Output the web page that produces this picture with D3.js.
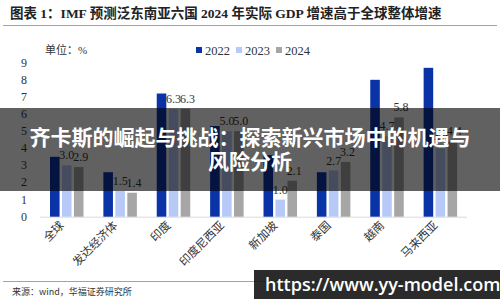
<!DOCTYPE html>
<html>
<head>
<meta charset="utf-8">
<script src="https://cdn.jsdelivr.net/npm/d3@7"></script>
<style>
  body { margin: 0; background: #fff; }
  svg { display: block; }
</style>
</head>
<body>
<div id="chart"></div>
<script>
var categories = ['全球', '发达经济体', '印度', '印度尼西亚', '新加坡', '泰国', '越南', '马来西亚'];
var series_names = ['2022', '2023', '2024'];
var v2022 = [3.5, 2.6, 7.2, 5.3, 3.6, 2.6, 8.0, 8.7];
var v2023 = [3.0, 1.5, 6.3, 5.0, 1.0, 2.7, 4.7, 4.0];
var v2024 = [2.9, 1.4, 6.3, 5.0, 2.1, 3.2, 5.8, 4.4];
var y_ticks = [0, 1, 2, 3, 4, 5, 6, 7, 8, 9];

var colors = ['#0b33a8', '#b6c9f7', '#a6a6a6'];
var serif = '"Liberation Serif", "Noto Sans CJK SC", serif';
var sans = '"Noto Sans CJK SC", "Open Sans", sans-serif';

var chart_width = 500;
var chart_height = 300;

var svg = d3.select('#chart')
    .append('svg')
    .attr('width', chart_width)
    .attr('height', chart_height);

// title + rule
svg.append('text')
    .attr('x', 10)
    .attr('y', 18)
    .attr('font-family', serif)
    .attr('font-weight', 'bold')
    .attr('font-size', 13.5)
    .attr('fill', '#222')
    .text('图表 1：IMF 预测泛东南亚六国 2024 年实际 GDP 增速高于全球整体增速');

svg.append('line')
    .attr('x1', 3).attr('x2', 497)
    .attr('y1', 25.5).attr('y2', 25.5)
    .attr('stroke', '#8fa6c4')
    .attr('stroke-width', 1);

svg.append('text')
    .attr('x', 45)
    .attr('y', 54)
    .attr('font-family', serif)
    .attr('font-size', 11)
    .attr('fill', '#333')
    .text('单位：%');

// legend
var legend = svg.selectAll('.legend')
    .data(series_names)
    .enter()
    .append('g')
    .attr('transform', function (d, i) {
        return 'translate(' + (196 + i * 40) + ',50)';
    });
legend.append('rect')
    .attr('x', 0).attr('y', -3)
    .attr('width', 6).attr('height', 6)
    .attr('fill', function (d, i) { return colors[i]; });
legend.append('text')
    .attr('x', 9).attr('y', 4.5)
    .attr('font-family', serif)
    .attr('font-size', 12.5)
    .attr('fill', '#333')
    .text(function (d) { return d; });

// scales
var x_scale = d3.scaleBand()
    .domain(categories)
    .range([40, 467]);

var x_inner = d3.scaleBand()
    .domain(series_names)
    .range([10, 43.5])
    .paddingInner(0.2);

var y_scale = d3.scaleLinear()
    .domain([0, 9])
    .range([216.7, 62.7]);

// y tick labels
svg.selectAll('.ytick')
    .data(y_ticks)
    .enter()
    .append('text')
    .attr('x', 27)
    .attr('y', function (d) { return y_scale(d) + 4; })
    .attr('text-anchor', 'end')
    .attr('font-family', serif)
    .attr('font-size', 12)
    .attr('fill', '#333')
    .text(function (d) { return d; });

// baseline
svg.append('line')
    .attr('x1', 40).attr('x2', 467)
    .attr('y1', y_scale(0) + 0.5).attr('y2', y_scale(0) + 0.5)
    .attr('stroke', '#d9d9d9')
    .attr('stroke-width', 1);

var all_series = [v2022, v2023, v2024];
var rows = [];
categories.forEach(function (c, ci) {
    series_names.forEach(function (s, si) {
        rows.push({ cat: c, s: s, si: si, v: all_series[si][ci] });
    });
});

svg.selectAll('.bar')
    .data(rows)
    .enter()
    .append('rect')
    .attr('x', function (d) { return x_scale(d.cat) + x_inner(d.s); })
    .attr('y', function (d) { return y_scale(d.v); })
    .attr('width', x_inner.bandwidth())
    .attr('height', function (d) { return y_scale(0) - y_scale(d.v); })
    .attr('fill', function (d) { return colors[d.si]; });

// value labels (2023 & 2024 only)
svg.selectAll('.vlabel')
    .data(rows.filter(function (d) { return d.si > 0; }))
    .enter()
    .append('text')
    .attr('x', function (d) { return x_scale(d.cat) + x_inner(d.s) + x_inner.bandwidth() / 2 + (d.si === 2 ? 2 : 0); })
    .attr('y', function (d) { return y_scale(d.v) - 6; })
    .attr('text-anchor', 'middle')
    .attr('font-family', serif)
    .attr('font-size', 12)
    .attr('fill', '#333')
    .text(function (d) { return d.v.toFixed(1); });

// category labels
svg.selectAll('.xlabel')
    .data(categories)
    .enter()
    .append('text')
    .attr('transform', function (d) {
        return 'translate(' + (x_scale(d) + x_scale.bandwidth() / 2 - 2) + ',226) rotate(-45)';
    })
    .attr('text-anchor', 'end')
    .attr('font-family', serif)
    .attr('font-size', 11.5)
    .attr('fill', '#333')
    .text(function (d) { return d; });

// source
svg.append('line')
    .attr('x1', 3).attr('x2', 497)
    .attr('y1', 281.5).attr('y2', 281.5)
    .attr('stroke', '#8fa6c4')
    .attr('stroke-width', 1);

svg.append('text')
    .attr('x', 12)
    .attr('y', 295)
    .attr('font-family', sans)
    .attr('font-size', 9)
    .attr('fill', '#333')
    .text('来源：wind，华福证券研究所');

// overlay banner
svg.append('rect')
    .attr('x', 0).attr('y', 108)
    .attr('width', 500).attr('height', 83)
    .attr('fill', 'rgba(0,0,0,0.62)');

var banner_lines = ['齐卡斯的崛起与挑战：探索新兴市场中的机遇与', '风险分析'];
svg.selectAll('.banner')
    .data(banner_lines)
    .enter()
    .append('text')
    .attr('x', 250)
    .attr('y', function (d, i) { return 145 + i * 24; })
    .attr('text-anchor', 'middle')
    .attr('font-family', sans)
    .attr('font-weight', 'bold')
    .attr('font-size', 21)
    .attr('fill', '#fff')
    .text(function (d) { return d; });

// watermark
svg.append('rect')
    .attr('x', 254).attr('y', 270)
    .attr('width', 246).attr('height', 29)
    .attr('fill', 'rgba(20,20,20,0.9)');

svg.append('text')
    .attr('x', 265)
    .attr('y', 291)
    .attr('font-family', '"Open Sans", sans-serif')
    .attr('font-weight', 600)
    .attr('font-size', 18)
    .attr('fill', '#fff')
    .text('https://www.yy-model.com');
</script>
</body>
</html>
